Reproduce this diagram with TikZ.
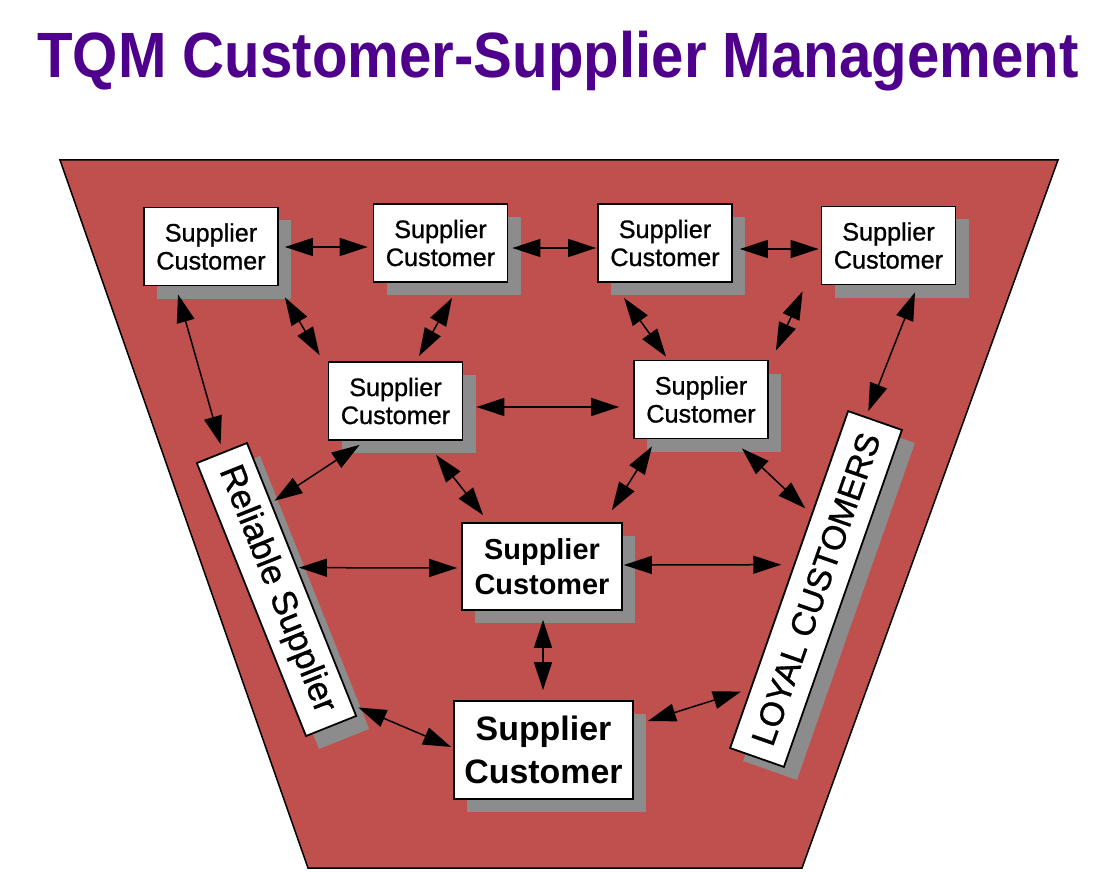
\documentclass[tikz,border=0pt]{standalone}
\usepackage{fontspec}
\setmainfont{Liberation Sans}
\newfontfamily\boxfont[FakeBold=0.9]{Liberation Sans}
\usetikzlibrary{arrows.meta}
\usetikzlibrary{shadows}
\usetikzlibrary{calc}
\definecolor{funnelred}{RGB}{192,80,77}
\definecolor{shadowgray}{RGB}{140,140,140}
\definecolor{titlepurple}{RGB}{78,0,140}

\tikzset{
  scbox/.style={draw, line width=1.8pt, fill=white, align=center, inner sep=0pt,
    drop shadow={shadow xshift=13pt, shadow yshift=-13pt, fill=shadowgray, opacity=1}},
  scsmall/.style={scbox, minimum width=134pt, minimum height=78pt,
    font=\boxfont\fontsize{25.2}{28}\selectfont},
  link/.style={<->, line width=1.5pt},
  >={Triangle[length=28pt,width=18pt]}
}

\begin{document}
\begin{tikzpicture}[x=1pt, y=-1pt]
  \useasboundingbox (0,0) rectangle (1112,872);

  \node[anchor=base, text=titlepurple, font=\bfseries\fontsize{58.2}{60}\selectfont] (title)
    at (558,78) {\scalebox{1}[1.1]{TQM Customer-Supplier Management}};

  % funnel
  \draw[fill=funnelred, line width=1.5pt] (60,160) -- (1058,160) -- (802,868) -- (308,868) -- cycle;

  % boxes
  \node[scsmall] (sc1) at (211,246.5) {Supplier\\Customer};
  \node[scsmall] (sc2) at (440.5,243) {Supplier\\Customer};
  \node[scsmall] (sc3) at (665,243) {Supplier\\Customer};
  \node[scsmall] (sc4) at (888.5,245.5) {Supplier\\Customer};
  \node[scsmall] (sc5) at (395.5,401) {Supplier\\Customer};
  \node[scsmall] (sc6) at (701,399.5) {Supplier\\Customer};
  \node[scbox, minimum width=160pt, minimum height=87pt,
    font=\bfseries\fontsize{28.9}{35}\selectfont] (sc7) at (542,566.5) {Supplier\\Customer};
  \node[scbox, minimum width=179pt, minimum height=98pt,
    font=\bfseries\fontsize{33.9}{43}\selectfont] (sc8) at (543.5,750) {Supplier\\Customer};
  \node[scbox, rotate=-68.2, minimum width=294pt, minimum height=54pt,
    font=\boxfont\fontsize{34.8}{40}\selectfont] (rel) at (276.5,589.5) {Reliable Supplier};
  \node[scbox, rotate=70.7, minimum width=357pt, minimum height=57pt,
    font=\boxfont\fontsize{33.5}{40}\selectfont] (loyal) at (816,589) {LOYAL CUSTOMERS};

  % links
  \draw[link] ([shift={(6,0.5)}]sc1.east) -- ([shift={(-5,4)}]sc2.west);
  \draw[link] ([shift={(4,5)}]sc2.east) -- ([shift={(-1,5)}]sc3.west);
  \draw[link] ([shift={(7,6)}]sc3.east) -- ([shift={(-2,3.5)}]sc4.west);
  \draw[link] ([shift={(-33,8)}]sc1.south) -- ([shift={(-1,-8)}]rel.west);
  \draw[link] ([shift={(6,11)}]sc1.south east) -- ([shift={(-8,-6)}]sc5.north west);
  \draw[link] ([shift={(11.5,15)}]sc2.south) -- ([shift={(23.5,-5)}]sc5.north);
  \draw[link] ([shift={(-41,15)}]sc3.south) -- ([shift={(-35,-3)}]sc6.north);
  \draw[link] ([shift={(-18,6)}]sc4.south west) -- ([shift={(7,-9)}]sc6.north east);
  \draw[link] ([shift={(26.5,7)}]sc4.south) -- ([shift={(-7,-8.5)}]loyal.east);
  \draw[link] ([shift={(13,6)}]sc5.east) -- ([shift={(-14,7.5)}]sc6.west);
  \draw[link] ([shift={(32,4)}]sc5.south west) -- ([shift={(27,59)}]rel.north west);
  \draw[link] ([shift={(40.5,14)}]sc5.south) -- ([shift={(22,-7)}]sc7.north west);
  \draw[link] ([shift={(-49,7)}]sc6.south) -- ([shift={(-11,-12)}]sc7.north east);
  \draw[link] ([shift={(-27,9)}]sc6.south east) -- ([shift={(17,-71)}]loyal.north);
  \draw[link] ([shift={(-3.5,-11.5)}]rel.north) -- ([shift={(-4,1.5)}]sc7.west);
  \draw[link] ([shift={(1,-1.5)}]sc7.east) -- ([shift={(-7,-14.6)}]loyal.north);
  \draw[link] ([shift={(1,9)}]sc7.south) -- ([shift={(-0.5,-10)}]sc8.north);
  \draw[link] ([shift={(1,-9)}]rel.north east) -- ([shift={(-2,-3)}]sc8.west);
  \draw[link] ([shift={(14,-29)}]sc8.east) -- ([shift={(12,-57)}]loyal.north west);
\end{tikzpicture}
\end{document}
